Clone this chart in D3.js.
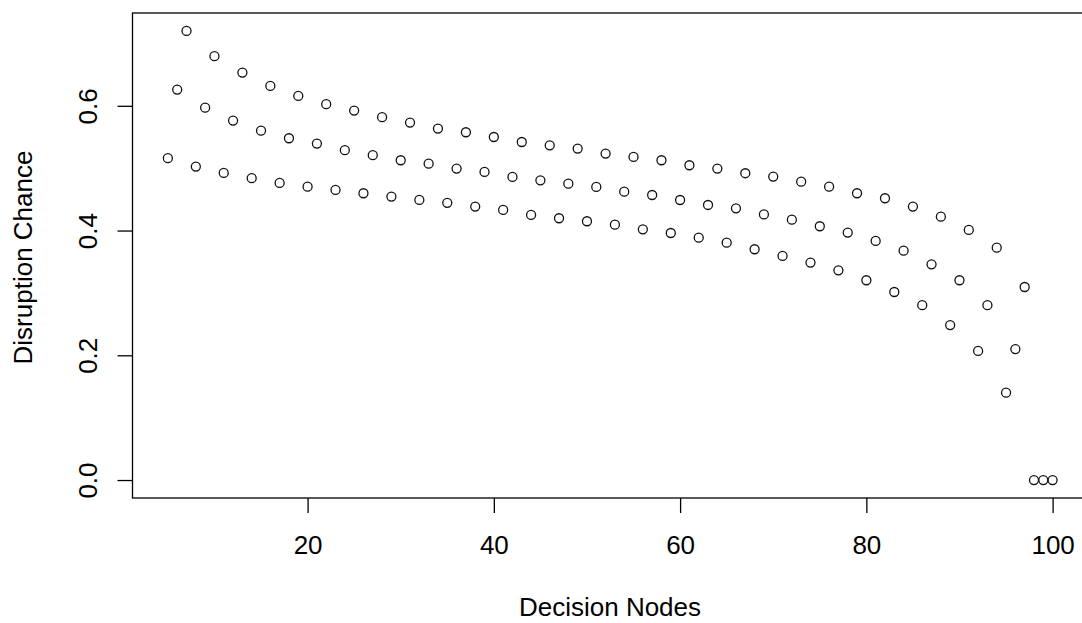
<!DOCTYPE html>
<html>
<head>
<meta charset="utf-8">
<script src="https://cdn.jsdelivr.net/npm/d3@7"></script>
<style>
  body { margin: 0; background: #fff; }
  text { font-family: "Liberation Sans", Arial, sans-serif; fill: #000; }
</style>
</head>
<body>
<div id="chart"></div>
<script>
// ---- data: three interleaved runs of nodes ----
var nodesLow = [5, 8, 11, 14, 17, 20, 23, 26, 29, 32, 35, 38, 41, 44, 47, 50,
                53, 56, 59, 62, 65, 68, 71, 74, 77, 80, 83, 86, 89, 92, 95, 98];
var chanceLow = [0.516, 0.5025, 0.4924, 0.4839, 0.4763, 0.4704, 0.4651, 0.4598,
                 0.4544, 0.4491, 0.4445, 0.4384, 0.433, 0.425, 0.4197, 0.4149,
                 0.4095, 0.402, 0.3961, 0.3886, 0.3806, 0.370, 0.3593, 0.3486,
                 0.3363, 0.3203, 0.3015, 0.2804, 0.2484, 0.207, 0.140, 0];

var nodesMid = [6, 9, 12, 15, 18, 21, 24, 27, 30, 33, 36, 39, 42, 45, 48, 51,
                54, 57, 60, 63, 66, 69, 72, 75, 78, 81, 84, 87, 90, 93, 96, 99];
var chanceMid = [0.626, 0.597, 0.5763, 0.5602, 0.548, 0.5394, 0.5288, 0.5208,
                 0.5127, 0.5073, 0.4993, 0.494, 0.486, 0.4806, 0.4752, 0.470,
                 0.4624, 0.457, 0.449, 0.441, 0.4357, 0.4258, 0.4175, 0.4069,
                 0.3967, 0.3833, 0.3678, 0.3459, 0.3203, 0.2804, 0.21, 0];

var nodesHigh = [7, 10, 13, 16, 19, 22, 25, 28, 31, 34, 37, 40, 43, 46, 49, 52,
                 55, 58, 61, 64, 67, 70, 73, 76, 79, 82, 85, 88, 91, 94, 97, 100];
var chanceHigh = [0.72, 0.6795, 0.6533, 0.6319, 0.6159, 0.6026, 0.5923, 0.5817,
                  0.5731, 0.5635, 0.5576, 0.550, 0.542, 0.5367, 0.5314, 0.5234,
                  0.518, 0.5127, 0.5047, 0.4993, 0.4919, 0.4865, 0.4784, 0.4704,
                  0.4598, 0.4518, 0.4384, 0.4223, 0.401, 0.3726, 0.3095, 0];

var xTicks = [20, 40, 60, 80, 100];
var yTicks = [0, 0.2, 0.4, 0.6];

// ---- layout ----
var svgWidth = 1082;
var svgHeight = 623;
var margin = { top: 13, left: 132.5 };
var plotRight = 1088;   // box runs past the right edge of the picture
var plotBottom = 498;
var fontSize = '26px';

var svg = d3.select('#chart')
    .append('svg')
    .attr('width', svgWidth)
    .attr('height', svgHeight);

// R style 4% padding around the data range
var allX = nodesLow.concat(nodesMid, nodesHigh);
var allY = chanceLow.concat(chanceMid, chanceHigh);
var xMin = d3.min(allX), xMax = d3.max(allX);
var yMin = d3.min(allY), yMax = d3.max(allY);
var xPad = (xMax - xMin) * 0.04, yPad = (yMax - yMin) * 0.04;

var x = d3.scaleLinear()
    .domain([xMin - xPad, xMax + xPad])
    .range([margin.left, plotRight]);

var y = d3.scaleLinear()
    .domain([yMin - yPad, yMax + yPad])
    .range([plotBottom, margin.top]);

// ---- axes ----
var xAxis = svg.append('g')
    .attr('transform', `translate(0, ${plotBottom})`)
    .call(d3.axisBottom(x).tickValues(xTicks).tickSize(15).tickPadding(23));
xAxis.select('.domain').remove();
xAxis.selectAll('line').attr('stroke', '#000').attr('stroke-width', 1.3);
xAxis.selectAll('text').style('font-size', fontSize).attr('fill', '#000');

var yAxis = svg.append('g')
    .attr('transform', `translate(${margin.left}, 0)`)
    .call(d3.axisLeft(y).tickValues(yTicks).tickSize(15).tickFormat(d3.format('.1f')));
yAxis.select('.domain').remove();
yAxis.selectAll('line').attr('stroke', '#000').attr('stroke-width', 1.3);
yAxis.selectAll('text')
    .style('font-size', fontSize)
    .attr('fill', '#000')
    .attr('x', null)
    .attr('dy', null)
    .attr('text-anchor', 'middle')
    .attr('transform', 'translate(-36, 0) rotate(-90)');

// ---- box ----
svg.append('rect')
    .attr('x', margin.left)
    .attr('y', margin.top)
    .attr('width', plotRight - margin.left)
    .attr('height', plotBottom - margin.top)
    .attr('fill', 'none')
    .attr('stroke', '#000')
    .attr('stroke-width', 1.3);

// ---- points ----
var series = [
    { nodes: nodesLow, chance: chanceLow },
    { nodes: nodesMid, chance: chanceMid },
    { nodes: nodesHigh, chance: chanceHigh }
];

series.forEach(function(s) {
    svg.append('g')
        .selectAll('circle')
        .data(s.nodes)
        .enter()
        .append('circle')
        .attr('cx', d => x(d))
        .attr('cy', (d, i) => y(s.chance[i]))
        .attr('r', 4.5)
        .attr('fill', 'none')
        .attr('stroke', '#111')
        .attr('stroke-width', 1.3);
});

// ---- titles ----
svg.append('text')
    .attr('x', 610)
    .attr('y', 616)
    .attr('text-anchor', 'middle')
    .style('font-size', fontSize)
    .text('Decision Nodes');

svg.append('text')
    .attr('transform', `translate(32, ${(margin.top + plotBottom) / 2 + 2}) rotate(-90)`)
    .attr('text-anchor', 'middle')
    .style('font-size', fontSize)
    .text('Disruption Chance');
</script>
</body>
</html>
